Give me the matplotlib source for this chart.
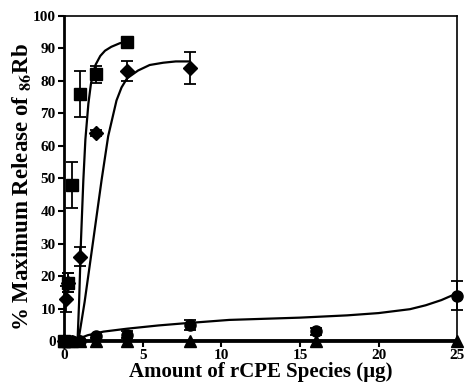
import matplotlib.pyplot as plt

# Data points (x in ug, y in % max release)
sq_x = [0, 0.25, 0.5, 1, 2, 4]
sq_y = [0, 18, 48, 76, 82, 92]
sq_err = [0, 3, 7, 7, 2.5, 0.5]

dia_x = [0, 0.125, 0.25, 1, 2, 4, 8]
dia_y = [0, 13, 18, 26, 64, 83, 84]
dia_err = [0, 4, 3, 3, 1, 3, 5]

cir_x = [0, 0.125, 0.25, 0.5, 1, 2, 4, 8, 16, 25]
cir_y = [0, 0, 0, 0, 0, 1.5, 2, 5, 3, 14]
cir_err = [0, 0, 0, 0, 0, 0.5, 1, 1.5, 1, 4.5]

tri_x = [0, 0.25, 0.5, 1, 2, 4, 8, 16, 25]
tri_y = [0, 0, 0, 0, 0, 0, 0, 0, 0]

# Fitted curves
sq_fit_x = [0.85, 0.95, 1.07, 1.22, 1.35, 1.54, 1.7, 1.85, 2.0, 2.3, 2.6, 3.0, 3.54, 4.0]
sq_fit_y = [0, 12, 31, 49.5, 62, 73, 79, 82.5, 85, 87.7, 89.3, 90.5, 91.6, 92]

dia_fit_x = [0.9, 1.3, 1.85, 2.38, 2.8, 3.33, 3.65, 4.0, 4.7, 5.44, 6.3, 7.1, 8.0]
dia_fit_y = [0, 12, 31, 49.5, 63, 74, 78, 80.8, 83.2, 84.9, 85.6, 86, 86]

cir_fit_x = [0.8, 1.5, 2.5, 4, 6, 7.5, 10.5, 15, 18, 20, 22, 23, 24, 25]
cir_fit_y = [0.5, 1.8, 2.9, 3.8, 4.8, 5.4, 6.5, 7.2, 7.9, 8.6, 9.8, 11, 12.6, 14.7]

plt.rcParams['font.family'] = 'Liberation Serif'
plt.rcParams['font.weight'] = 'bold'
plt.rcParams['mathtext.fontset'] = 'stix'

fig = plt.figure(figsize=(4.65, 3.88), dpi=100)
ax = fig.add_axes([0.138, 0.121, 0.845, 0.838])

# fitted curves
ax.plot(sq_fit_x, sq_fit_y, color='black', lw=1.6)
ax.plot(dia_fit_x, dia_fit_y, color='black', lw=1.6)
ax.plot(cir_fit_x, cir_fit_y, color='black', lw=1.6)
ax.plot(tri_x, tri_y, color='black', lw=3.5)

# data with error bars
ax.errorbar(sq_x, sq_y, yerr=sq_err, fmt='s', color='black', ms=8,
            capsize=4, elinewidth=1.3, capthick=1.3, clip_on=False)
ax.errorbar(dia_x, dia_y, yerr=dia_err, fmt='D', color='black', ms=7,
            capsize=4, elinewidth=1.3, capthick=1.3, clip_on=False)
ax.errorbar(cir_x, cir_y, yerr=cir_err, fmt='o', color='black', ms=8,
            capsize=4, elinewidth=1.3, capthick=1.3, clip_on=False)
ax.plot(tri_x, tri_y, '^', color='black', ms=9, clip_on=False)

ax.set_xlim(0, 25)
ax.set_ylim(0, 100)
ax.set_xticks([0, 5, 10, 15, 20, 25])
ax.set_yticks(range(0, 101, 10))
ax.tick_params(direction='out', length=4, width=1.5, labelsize=11, pad=2)
for lbl in ax.get_xticklabels() + ax.get_yticklabels():
    lbl.set_fontweight('bold')

for side in ['left', 'bottom']:
    ax.spines[side].set_linewidth(2)
for side in ['top', 'right']:
    ax.spines[side].set_linewidth(1.2)

ax.set_xlabel('Amount of rCPE Species (\u00b5g)', fontsize=15, fontweight='bold', labelpad=0)
ax.set_ylabel(r'% Maximum Release of $_{\mathbf{86}}$Rb', fontsize=16.5, fontweight='bold')
ax.yaxis.set_label_coords(-0.077, 0.475)

plt.savefig('out.png', dpi=100)
plt.close()
